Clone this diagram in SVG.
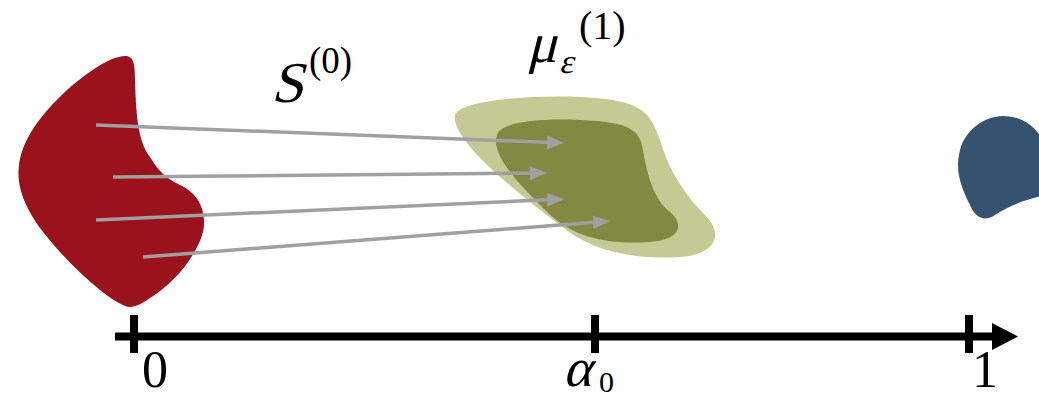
<svg xmlns="http://www.w3.org/2000/svg" width="1039" height="399" viewBox="0 0 1039 399">
<style>
.t{font-family:"Liberation Serif","Times New Roman",serif;fill:#000}
.arr{stroke:#a0a0a0;stroke-width:3.5;fill:none;marker-end:url(#ah)}
.tick{stroke:#000;stroke-width:8}
</style>
<defs>
<marker id="ah" markerUnits="userSpaceOnUse" markerWidth="20" markerHeight="16" refX="5" refY="7" orient="auto">
<path d="M0,0 L17,7 L0,14 Z" fill="#a0a0a0"/>
</marker>
</defs>
<g id="red-shape">
<path d="M 125,56 C 133,56 135,62 135,80 C 136,110 137,140 150,157 C 158,170 165,178 180,185 C 195,192 205,205 204,225 C 203,245 180,280 150,298 C 140,305 132,309 125,306 C 100,295 60,255 40,228 C 20,200 17,180 19,165 C 22,140 40,115 67,90 C 90,70 112,56 125,56 Z" fill="#9a121b"/>
</g>
<g id="green-shape">
<path d="M 455,115 C 460,100 530,95 580,97 C 640,100 650,110 660,140 C 670,175 690,200 705,215 C 725,235 715,255 680,257 C 630,260 590,250 560,225 C 520,195 450,140 455,115 Z" fill="#c5ca94"/>
<path d="M 497,135 C 500,122 540,118 580,120 C 630,122 640,130 643,150 C 648,180 655,200 670,212 C 685,225 680,240 650,242 C 600,245 570,235 545,210 C 520,185 490,155 497,135 Z" fill="#838843"/>
</g>
<g id="blue-shape">
<path d="M 1003,116 C 1025,116 1039,130 1045,145 L 1045,195 C 1025,200 1010,205 995,215 C 985,222 975,218 970,205 C 960,185 955,170 960,150 C 965,130 985,116 1003,116 Z" fill="#36526e"/>
</g>
<g id="connectors">
<line class="arr" x1="96" y1="125" x2="552" y2="142.5"/>
<line class="arr" x1="113" y1="177" x2="535" y2="173.1"/>
<line class="arr" x1="96" y1="220" x2="552" y2="199.5"/>
<line class="arr" x1="143" y1="257" x2="598" y2="222"/>
</g>
<g id="axis">
<line x1="115" y1="336.5" x2="995" y2="336.5" stroke="#000" stroke-width="8"/>
<polygon points="992,323 1018,336.5 992,350" fill="#000"/>
<line class="tick" x1="134" y1="315" x2="134" y2="353"/>
<line class="tick" x1="595" y1="315" x2="595" y2="353"/>
<line class="tick" x1="969" y1="315" x2="969" y2="353"/>
<text class="t" x="155" y="387" font-size="52" text-anchor="middle">0</text>
<text class="t" font-size="54" transform="translate(563,386) skewX(-14)">α</text>
<text class="t" x="599" y="392" font-size="30">0</text>
<text class="t" x="985" y="387" font-size="52" text-anchor="middle">1</text>
</g>
<g id="label-S">
<text class="t" font-size="58" transform="translate(271,102) skewX(-14)">S</text>
<text class="t" x="309" y="73" font-size="37">(0)</text>
</g>
<g id="label-mu">
<text class="t" font-size="56" transform="translate(527,62) skewX(-14)">μ</text>
<text class="t" font-size="34" transform="translate(559,73) skewX(-14)">ε</text>
<text class="t" x="579" y="39" font-size="40">(1)</text>
</g>
</svg>
